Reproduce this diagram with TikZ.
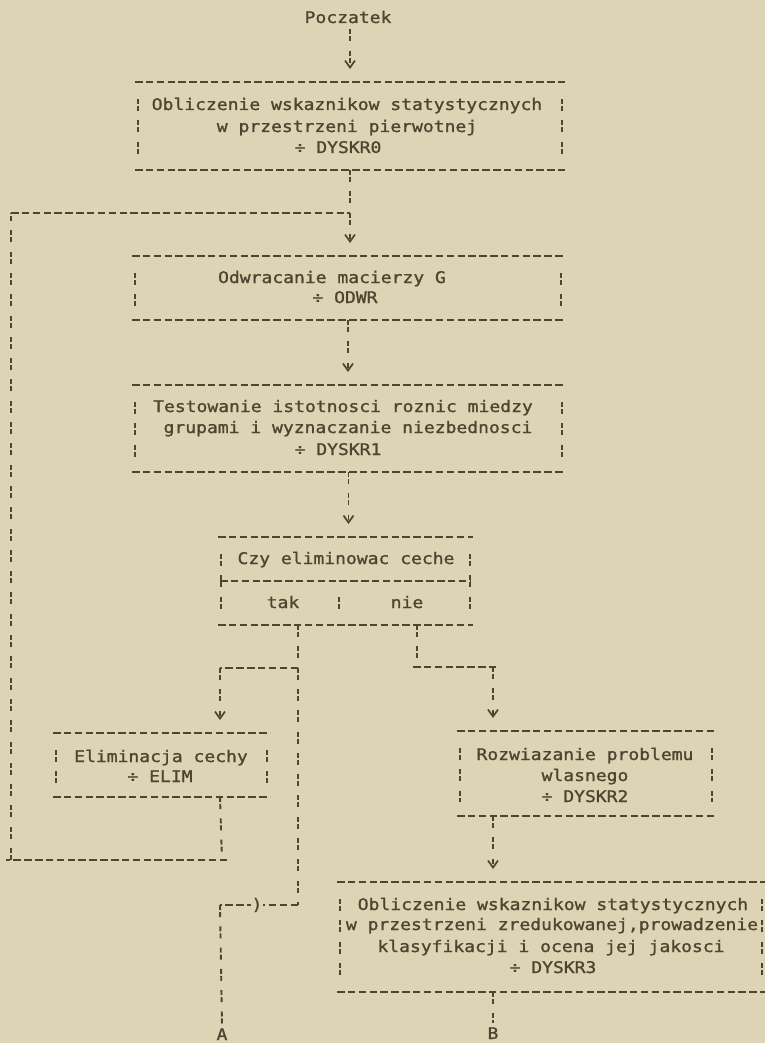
\documentclass[tikz,border=0pt]{standalone}
\usepackage{fontspec}
\setmonofont[FakeStretch=1.126,FakeBold=1.2]{DejaVu Sans Mono}
\usetikzlibrary{arrows.meta}
\definecolor{paper}{RGB}{221,212,182}
\definecolor{ink}{RGB}{78,68,48}
\newcommand\dmframe[1]{%
  \draw[hd] (#1.north west) -- (#1.north east) (#1.south west) -- (#1.south east);
  \draw[vd] ([shift={(3,17)}]#1.north west) -- ([shift={(3,-14)}]#1.south west)
            ([shift={(-3,17)}]#1.north east) -- ([shift={(-3,-14)}]#1.south east);}
\begin{document}
\begin{tikzpicture}[x=1pt,y=-1pt,
  every node/.style={inner sep=0pt, outer sep=0pt, text=ink,
    font=\ttfamily\fontsize{16}{21}\selectfont},
  txt/.style={anchor=base},
  box/.style={rectangle, draw=none},
  hd/.style={draw=ink, line width=1.9pt, dash pattern=on 7.5pt off 3.35pt},
  vd/.style={draw=ink, line width=1.9pt, dash pattern=on 5pt off 2pt on 5pt off 9.3pt},
  arr/.style={vd, -{Straight Barb[length=7pt,width=10pt,line width=1.7pt]}, shorten >=13pt}]
\fill[paper] (0,0) rectangle (765,1043);
\useasboundingbox (0,0) rectangle (765,1043);

% boxes
\node[box, minimum width=430pt, minimum height=88pt] (b1) at (350,126) {};
\node[box, minimum width=432pt, minimum height=64pt] (b2) at (348,288) {};
\node[box, minimum width=433pt, minimum height=87pt] (b3) at (348.5,428.5) {};
\node[box, minimum width=255pt, minimum height=88pt] (czy) at (345.5,581) {};
\node[box, minimum width=217pt, minimum height=64pt] (elim) at (161.5,765) {};
\node[box, minimum width=258pt, minimum height=85pt] (d2) at (586,773.5) {};
\node[box, minimum width=428pt, minimum height=110pt] (d3) at (551,937) {};
\dmframe{b1}\dmframe{b2}\dmframe{b3}\dmframe{czy}\dmframe{elim}\dmframe{d2}\dmframe{d3}
\draw[hd] ([xshift=2pt]czy.west) -- ([xshift=-2pt]czy.east);
\draw[vd] (339,597) -- (339,610);

% texts
\node[txt] (start) at (348,23) {Poczatek};
\node[txt] (b1a) at (347,110) {Obliczenie wskaznikow statystycznych};
\node[txt] (b1b) at (347,132) {w przestrzeni pierwotnej};
\node[txt] (b1c) at (338,153) {÷ DYSKR0};
\node[txt] (b2a) at (332,283) {Odwracanie macierzy G};
\node[txt] (b2b) at (345,303) {÷ ODWR};
\node[txt] (b3a) at (343,412) {Testowanie istotnosci roznic miedzy};
\node[txt] (b3b) at (348,433) {grupami i wyznaczanie niezbednosci};
\node[txt] (b3c) at (338,455) {÷ DYSKR1};
\node[txt] (cza) at (346,564) {Czy eliminowac ceche};
\node[txt] (tak) at (283,608) {tak};
\node[txt] (nie) at (407,608) {nie};
\node[txt] (ea) at (161,762) {Eliminacja cechy};
\node[txt] (eb) at (160,782) {÷ ELIM};
\node[txt] (d2a) at (585,760) {Rozwiazanie problemu};
\node[txt] (d2b) at (585,781) {wlasnego};
\node[txt] (d2c) at (585,802) {÷ DYSKR2};
\node[txt] (d3a) at (553,910) {Obliczenie wskaznikow statystycznych};
\node[txt] (d3b) at (552,930) {w przestrzeni zredukowanej,prowadzenie};
\node[txt] (d3c) at (551,952) {klasyfikacji i ocena jej jakosci};
\node[txt] (d3d) at (553,973) {÷ DYSKR3};
\node[txt] (A) at (222,1040) {A};
\node[txt] (B) at (493,1039) {B};

% coordinates
\coordinate (j1) at (350,213);
\coordinate (lc1) at (11,213);
\coordinate (lc2) at (11,860);
\coordinate (j2) at (222,860);
\coordinate (t0) at (298,625);
\coordinate (t1) at (298,668);
\coordinate (t2) at (220,668);
\coordinate (t3) at (298,905);
\coordinate (t4) at (220,905);
\coordinate (n0) at (417,625);
\coordinate (n1) at (417,667);
\coordinate (n2) at (493,667);

% main flow
\draw[arr, shorten <=6pt] (b1.north |- start.south) -- (b1.north);
\draw[arr] (b1.south) -- (b1.south |- b2.north);
\draw[arr] (b2.south) -- (b2.south |- b3.north);
\draw[arr] (b3.south) -- (b3.south |- czy.north);

% tak branch
\draw[vd] (t0) -- (t3);
\draw[hd] (t1) -- (t2);
\draw[arr] (t2) -- (t2 |- elim.north);
\draw[hd] (t3) -- (t4);
\node[fill=paper, inner sep=1pt] (par) at (257,905) {)};
\draw[vd] (t4) -- ([yshift=3pt]A.north);

% nie branch
\draw[vd] (n0) -- (n1);
\draw[hd] ([xshift=-4pt]n1) -- ([xshift=5pt]n2);
\draw[arr] (n2) -- (n2 |- d2.north);
\draw[arr] (n2 |- d2.south) -- (n2 |- d3.north);
\draw[vd] (n2 |- d3.south) -- ([yshift=4pt]B.north);

% loop back
\draw[vd] (t2 |- elim.south) -- (j2);
\draw[hd] ([xshift=5pt]j2) -- ([xshift=-5pt]lc2);
\draw[vd] (lc2) -- (lc1);
\draw[hd] (lc1) -- (j1);
\end{tikzpicture}
\end{document}
